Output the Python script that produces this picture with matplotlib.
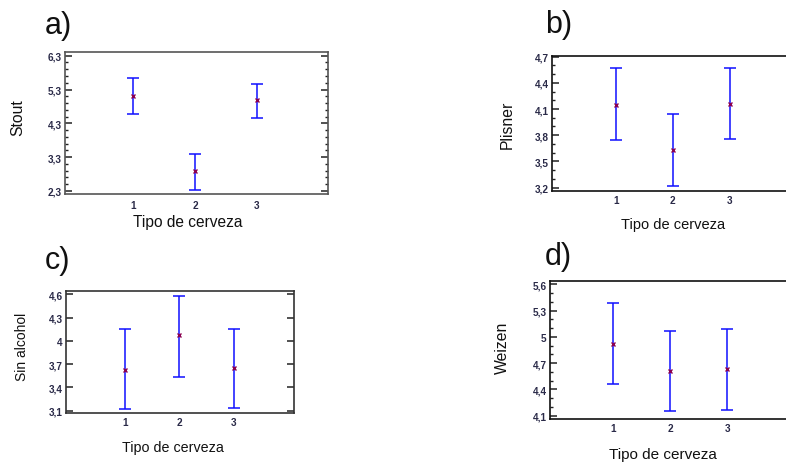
"""
Intervalos de medias (LSD) por tipo de cerveza, cuatro paneles
"""
import numpy as np
import matplotlib
matplotlib.use("Agg")
import matplotlib.pyplot as plt
from matplotlib.ticker import FixedLocator, FuncFormatter, NullLocator

plt.rcParams['font.family'] = ['Liberation Sans', 'DejaVu Sans']

tipos = [1, 2, 3]
x_label = "Tipo de cerveza"

# a) Stout
stout_mean = [5.12, 2.89, 4.98]
stout_low = [4.58, 2.34, 4.47]
stout_high = [5.65, 3.39, 5.47]
stout_ticks = [2.3, 3.3, 4.3, 5.3, 6.3]

# b) Plisner
plisner_mean = [4.15, 3.63, 4.16]
plisner_low = [3.75, 3.22, 3.76]
plisner_high = [4.57, 4.04, 4.57]
plisner_ticks = [3.2, 3.5, 3.8, 4.1, 4.4, 4.7]

# c) Sin alcohol
sin_mean = [3.63, 4.07, 3.645]
sin_low = [3.12, 3.54, 3.13]
sin_high = [4.157, 4.58, 4.157]
sin_ticks = [3.1, 3.4, 3.7, 4.0, 4.3, 4.6]

# d) Weizen
weizen_mean = [4.92, 4.61, 4.634]
weizen_low = [4.46, 4.15, 4.17]
weizen_high = [5.39, 5.07, 5.09]
weizen_ticks = [4.1, 4.4, 4.7, 5.0, 5.3, 5.6]

W, H = 786, 464
fig = plt.figure(figsize=(W / 100, H / 100), dpi=100)


def px_axes(left, top, right, bottom):
    """pixel box -> axes"""
    return fig.add_axes([left / W, 1 - bottom / H, (right - left) / W, (bottom - top) / H])


def coma(v, pos):
    return ("%g" % round(v, 2)).replace(".", ",")


def interval_plot(ax, mean, low, high, ticks, ylim, xlim, minor, spine_col, xpad):
    mean = np.array(mean)
    err = np.vstack([mean - np.array(low), np.array(high) - mean])
    ax.errorbar(tipos, mean, yerr=err, fmt="none", ecolor="#1010ff",
                elinewidth=1.1, capsize=4.3, capthick=1.1, zorder=2)
    ax.plot(tipos, mean, linestyle="none", marker="x", markersize=3,
            mew=1.0, color="#8a0050", zorder=3)
    ax.set_xlim(*xlim)
    ax.set_ylim(*ylim)
    ax.set_xticks(tipos)
    ax.xaxis.set_major_formatter(FuncFormatter(lambda v, p: "%d" % v))
    ax.yaxis.set_major_locator(FixedLocator(ticks))
    if minor:
        ax.yaxis.set_minor_locator(FixedLocator(np.arange(ticks[0], ticks[-1] + 1e-6, minor)))
    else:
        ax.yaxis.set_minor_locator(NullLocator())
    ax.yaxis.set_major_formatter(FuncFormatter(coma))
    ax.tick_params(axis="y", which="both", direction="in", left=True, right=True,
                   labelsize=7.2, labelcolor="#2a2a48", pad=2.5, color="#222222")
    ax.tick_params(axis="y", which="major", length=5, width=1.1)
    ax.tick_params(axis="y", which="minor", length=2.5, width=1.0)
    ax.tick_params(axis="x", length=0, labelsize=7.2, labelcolor="#2a2a48", pad=xpad)
    for lab in ax.get_xticklabels() + ax.get_yticklabels():
        lab.set_fontweight("bold")
    for s in ax.spines.values():
        s.set_color(spine_col)
        s.set_linewidth(1.2)


ax_a = px_axes(65, 53, 328, 195)
interval_plot(ax_a, stout_mean, stout_low, stout_high, stout_ticks, (2.21, 6.41),
              (-0.1, 4.15), 0.2, "#555555", 4)

ax_b = px_axes(552, 57, 795, 192)
interval_plot(ax_b, plisner_mean, plisner_low, plisner_high, plisner_ticks, (3.161, 4.707),
              (-0.13, 4.15), 0.1, "#111111", 3)

ax_c = px_axes(66, 292, 294, 414)
interval_plot(ax_c, sin_mean, sin_low, sin_high, sin_ticks, (3.07, 4.643),
              (-0.08, 4.1), None, "#333333", 3)

ax_d = px_axes(550, 282, 793, 420)
interval_plot(ax_d, weizen_mean, weizen_low, weizen_high, weizen_ticks, (4.062, 5.639),
              (-0.11, 4.15), 0.1, "#111111", 3)


def fig_text(x, y, s, size, rot=0, ha="center"):
    fig.text(x / W, 1 - y / H, s, fontsize=size, rotation=rot, ha=ha, va="center",
             color="#111111")


# letras de panel
fig_text(45, 26, "a)", 22, ha="left")
fig_text(545, 25, "b)", 22, ha="left")
fig_text(45, 261, "c)", 22, ha="left")
fig_text(545, 257, "d)", 22, ha="left")

# etiquetas de ejes
fig_text(18, 118, "Stout", 11.3, rot=90)
fig_text(507, 125, "Plisner", 11.3, rot=90)
fig_text(22, 347, "Sin alcohol", 10, rot=90)
fig_text(502, 348, "Weizen", 11.3, rot=90)

fig_text(188, 223, x_label, 11.2)
fig_text(673, 225, x_label, 10.5)
fig_text(173, 448, x_label, 10.3)
fig_text(663, 455, x_label, 11)

fig.savefig("out.png", dpi=100)
